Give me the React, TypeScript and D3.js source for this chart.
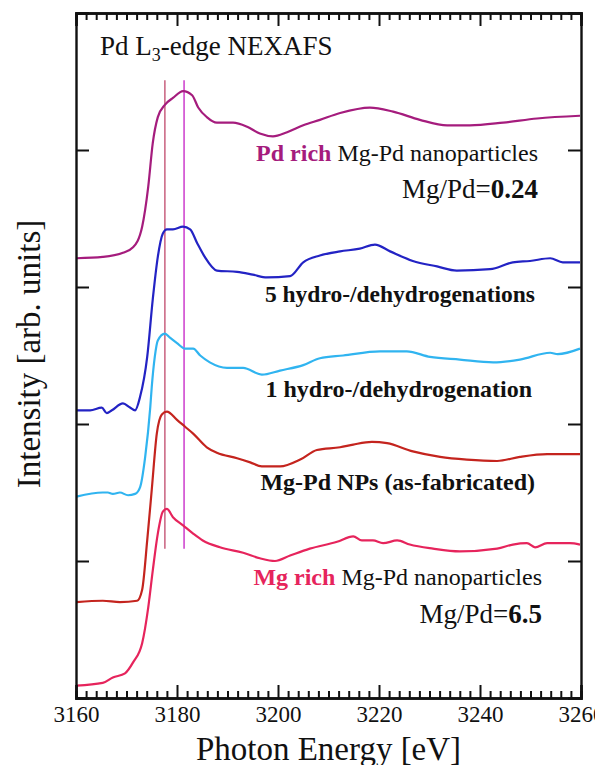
import * as d3 from 'd3';
import React, { useRef, useEffect } from 'react';

// energies in eV, intensities in arb. units (stacked offsets included)
const pdRichE = [3160.1, 3165.3, 3169.3, 3171.3, 3173.1, 3174.3, 3175.2, 3176.2, 3177.6, 3179.2, 3181.2, 3183.0, 3184.2, 3185.9, 3187.9, 3191.1, 3193.9, 3196.4, 3199.0, 3201.8, 3205.0, 3208.3, 3212.3, 3218.2, 3222.8, 3228.1, 3233.5, 3238.0, 3244.6, 3251.3, 3259.8];
const pdRichI = [3.21, 3.22, 3.25, 3.29, 3.44, 3.73, 4.05, 4.24, 4.33, 4.38, 4.43, 4.40, 4.31, 4.24, 4.20, 4.20, 4.17, 4.12, 4.10, 4.13, 4.18, 4.22, 4.27, 4.31, 4.28, 4.22, 4.18, 4.18, 4.20, 4.23, 4.25];

const hydro5E = [3160.1, 3162.8, 3165.1, 3166.1, 3167.1, 3169.3, 3170.7, 3171.7, 3172.7, 3174.1, 3175.2, 3176.2, 3177.2, 3178.0, 3179.2, 3181.2, 3182.6, 3184.0, 3185.5, 3187.9, 3191.9, 3195.0, 3197.8, 3202.4, 3205.0, 3208.3, 3212.3, 3216.2, 3219.2, 3222.2, 3226.7, 3231.5, 3235.4, 3242.0, 3246.5, 3249.9, 3253.9, 3256.4, 3259.8];
const hydro5I = [2.10, 2.10, 2.12, 2.08, 2.10, 2.15, 2.12, 2.10, 2.20, 2.49, 2.91, 3.22, 3.39, 3.42, 3.42, 3.44, 3.42, 3.32, 3.22, 3.12, 3.11, 3.09, 3.07, 3.08, 3.18, 3.23, 3.26, 3.28, 3.31, 3.26, 3.19, 3.15, 3.12, 3.13, 3.18, 3.19, 3.21, 3.18, 3.18];

const hydro1E = [3160.1, 3165.3, 3166.3, 3167.3, 3168.7, 3170.3, 3171.7, 3172.7, 3173.7, 3174.7, 3175.0, 3175.6, 3176.2, 3177.6, 3178.6, 3180.0, 3181.6, 3183.2, 3184.6, 3186.5, 3189.9, 3193.1, 3196.8, 3200.4, 3205.0, 3208.3, 3212.9, 3220.2, 3225.5, 3230.1, 3236.0, 3242.6, 3247.9, 3253.9, 3255.4, 3259.8];
const hydro1I = [1.47, 1.50, 1.50, 1.49, 1.50, 1.48, 1.49, 1.54, 1.76, 2.12, 2.27, 2.49, 2.61, 2.66, 2.63, 2.59, 2.55, 2.55, 2.50, 2.45, 2.41, 2.41, 2.36, 2.39, 2.43, 2.48, 2.50, 2.53, 2.53, 2.49, 2.47, 2.45, 2.47, 2.52, 2.51, 2.55];

const asFabE = [3160.1, 3165.3, 3168.7, 3172.1, 3173.1, 3174.1, 3175.0, 3176.0, 3177.0, 3178.0, 3180.0, 3181.6, 3183.2, 3185.9, 3187.9, 3191.9, 3194.5, 3196.8, 3200.4, 3204.4, 3207.7, 3212.3, 3214.9, 3218.6, 3221.6, 3226.7, 3232.1, 3237.4, 3243.4, 3247.9, 3253.3, 3259.8];
const asFabI = [0.70, 0.71, 0.70, 0.71, 0.79, 1.15, 1.52, 1.93, 2.07, 2.09, 2.03, 1.98, 1.93, 1.83, 1.79, 1.75, 1.72, 1.69, 1.69, 1.74, 1.81, 1.83, 1.85, 1.87, 1.86, 1.80, 1.76, 1.74, 1.73, 1.76, 1.78, 1.78];

const mgRichE = [3160.1, 3165.3, 3167.3, 3169.7, 3171.3, 3173.1, 3174.3, 3175.2, 3176.2, 3177.2, 3178.0, 3179.2, 3181.2, 3183.2, 3185.1, 3188.5, 3193.1, 3196.4, 3199.4, 3202.4, 3206.3, 3211.7, 3214.9, 3216.6, 3218.8, 3220.8, 3223.6, 3226.1, 3230.7, 3236.0, 3243.4, 3246.5, 3249.3, 3250.9, 3253.3, 3257.8, 3259.8];
const mgRichI = [0.09, 0.11, 0.15, 0.18, 0.26, 0.40, 0.66, 0.93, 1.20, 1.36, 1.38, 1.32, 1.26, 1.20, 1.15, 1.10, 1.06, 1.02, 1.00, 1.04, 1.09, 1.14, 1.18, 1.15, 1.15, 1.13, 1.15, 1.12, 1.09, 1.07, 1.09, 1.12, 1.13, 1.10, 1.13, 1.13, 1.12];

const xMajor = [3160, 3180, 3200, 3220, 3240, 3260];
const xTickLabels = ['3160', '3180', '3200', '3220', '3240', '3260'];
const yMajor = [1, 2, 3, 4];
const markerE = [3177.6, 3181.4];
const markerRange = [1.09, 4.51];

const series = [
  { name: 'pdRich', e: pdRichE, i: pdRichI, color: '#a51c7d' },
  { name: 'hydro5', e: hydro5E, i: hydro5I, color: '#2323c4' },
  { name: 'hydro1', e: hydro1E, i: hydro1I, color: '#30b4f0' },
  { name: 'asFab', e: asFabE, i: asFabI, color: '#c4241e' },
  { name: 'mgRich', e: mgRichE, i: mgRichI, color: '#e6245c' },
];

const W = 595;
const H = 765;
const left = 76, right = 581, top = 13, bottom = 698;
const serif = '"Liberation Serif", "DejaVu Serif", serif';

function Chart() {
  const ref = useRef<SVGSVGElement>(null);

  useEffect(() => {
    const svg = d3.select(ref.current);
    svg.selectAll('*').remove();

    const x = d3.scaleLinear().domain([3160, 3260]).range([left, right]);
    const y = d3.scaleLinear().domain([0, 5]).range([bottom, top]);

    // marker lines
    const mColors = ['#c8607e', '#cc3ccc'];
    markerE.forEach((e, k) => {
      svg.append('line')
        .attr('x1', x(e)).attr('x2', x(e))
        .attr('y1', y(markerRange[0])).attr('y2', y(markerRange[1]))
        .attr('stroke', mColors[k]).attr('stroke-width', 1.5);
    });

    // curves
    series.forEach(s => {
      const pts = s.e.map((e, k) => [e, s.i[k]] as [number, number]);
      const line = d3.line<[number, number]>()
        .x(d => x(d[0]))
        .y(d => y(d[1]))
        .curve(d3.curveMonotoneX);
      svg.append('path')
        .attr('d', line(pts))
        .attr('fill', 'none')
        .attr('stroke', s.color)
        .attr('stroke-width', 2.2);
    });

    const minor = d3.range(3160, 3261, 2).filter(v => !xMajor.includes(v));

    // bottom axis
    const gB = svg.append('g').attr('transform', `translate(0,${bottom})`);
    gB.call(d3.axisBottom(x).tickValues(minor).tickSize(-7).tickFormat(() => ''));
    const gB2 = svg.append('g').attr('transform', `translate(0,${bottom})`);
    gB2.call(d3.axisBottom(x).tickValues(xMajor).tickSize(-13).tickPadding(8)
      .tickFormat((d, k) => xTickLabels[k]));
    gB2.selectAll('text').attr('font-family', serif).attr('font-size', 23).attr('fill', '#111');

    // top axis
    const gT = svg.append('g').attr('transform', `translate(0,${top})`);
    gT.call(d3.axisTop(x).tickValues(minor).tickSize(-7).tickFormat(() => ''));
    const gT2 = svg.append('g').attr('transform', `translate(0,${top})`);
    gT2.call(d3.axisTop(x).tickValues(xMajor).tickSize(-13).tickFormat(() => ''));

    // left / right axes
    const gL = svg.append('g').attr('transform', `translate(${left},0)`);
    gL.call(d3.axisLeft(y).tickValues(yMajor).tickSize(-13).tickFormat(() => ''));
    const gR = svg.append('g').attr('transform', `translate(${right},0)`);
    gR.call(d3.axisRight(y).tickValues(yMajor).tickSize(-13).tickFormat(() => ''));

    svg.selectAll('.domain').attr('stroke', '#111').attr('stroke-width', 2.4);
    svg.selectAll('.tick line').attr('stroke', '#111').attr('stroke-width', 2);
  }, []);

  return (
    <svg ref={ref} width={W} height={H} />
  );
}

export default function App() {
  return (
    <div style={{ position: 'absolute', left: 0, top: 0, width: W, height: H, background: '#fff' }}>
      <div style={{ position: 'absolute', left: 0, top: 0 }}>
        <Chart />
      </div>
      <svg width={W} height={H} style={{ position: 'absolute', left: 0, top: 0 }} fontFamily={serif}>
        <text x={100} y={55} fontSize={27} fill="#111">
          Pd L<tspan fontSize={18} dy={6}>3</tspan><tspan dy={-6}>-edge NEXAFS</tspan>
        </text>
        <text x={538} y={161} fontSize={24} fill="#111" textAnchor="end">
          <tspan fill="#a51c7d" fontWeight="bold">Pd rich</tspan> Mg-Pd nanoparticles
        </text>
        <text x={538} y={198} fontSize={27} fill="#111" textAnchor="end">
          Mg/Pd=<tspan fontWeight="bold">0.24</tspan>
        </text>
        <text x={535} y={302} fontSize={23.5} fill="#111" textAnchor="end" fontWeight="bold">
          5 hydro-/dehydrogenations
        </text>
        <text x={532} y={397} fontSize={24} fill="#111" textAnchor="end" fontWeight="bold">
          1 hydro-/dehydrogenation
        </text>
        <text x={535} y={490} fontSize={24} fill="#111" textAnchor="end" fontWeight="bold">
          Mg-Pd NPs (as-fabricated)
        </text>
        <text x={542} y={585} fontSize={24} fill="#111" textAnchor="end">
          <tspan fill="#e6245c" fontWeight="bold">Mg rich</tspan> Mg-Pd nanoparticles
        </text>
        <text x={542} y={623} fontSize={27} fill="#111" textAnchor="end">
          Mg/Pd=<tspan fontWeight="bold">6.5</tspan>
        </text>
        <text x={328.5} y={760} fontSize={33} fill="#111" textAnchor="middle">
          Photon Energy [eV]
        </text>
        <text transform="translate(40,354) rotate(-90)" fontSize={33} fill="#111" textAnchor="middle">
          Intensity [arb. units]
        </text>
      </svg>
    </div>
  );
}
